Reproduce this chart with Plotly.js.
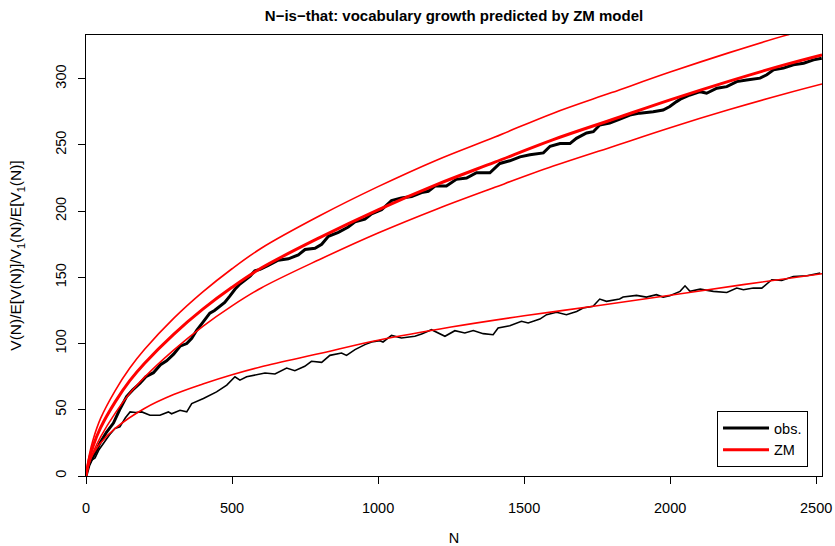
<!DOCTYPE html>
<html>
<head>
<meta charset="utf-8">
<script src="https://cdn.plot.ly/plotly-3.0.1.min.js"></script>
<style>html,body{margin:0;padding:0;background:#fff;}#chart{width:835px;height:546px;}</style>
</head>
<body>
<div id="chart"></div>
<script>
// Observed vocabulary size V(N)
const obsV_N = [0,10,20,31,48,70,94,115,139,160,185,205,231,255,276,300,322,345,362,379,400,424,440,459,475,493,510,527,545,562,578,596,624,658,693,727,750,784,807,830,864,898,921,955,978,1012,1046,1080,1115,1149,1172,1195,1234,1268,1303,1337,1383,1417,1451,1486,1520,1566,1589,1623,1657,1679,1714,1737,1759,1793,1828,1862,1896,1942,1976,1999,2022,2039,2068,2103,2125,2160,2194,2228,2262,2308,2331,2354,2388,2422,2457,2491,2519];
const obsV = [0,8,13,17,25,33,40,50,60,65,70,75,78,84,87,92,98,100,104,110,116,123,125,128,131,136,141,145,148,151,155,156,159,163,164,167,171,172,175,181,184,188,192,194,198,201,208,210,211,214,215,219,219,224,225,229,229,236,238,241,242.5,244,249,251,251,255,259,260,265,266.5,269.5,272.6,274,275,276.4,279,282.7,285,287.7,290.2,289,292.8,294,297.8,299,300.4,303,306.7,308,310.5,311.7,314.2,315.5];

// Observed hapax count V1(N)
const obsV1_N = [0,10,20,31,45,59,80,99,116,135,151,170,191,219,253,282,293,322,345,362,402,447,482,510,527,550,584,613,647,687,715,749,772,807,835,875,892,921,955,978,1006,1017,1046,1080,1126,1149,1183,1229,1263,1297,1326,1360,1394,1411,1451,1491,1514,1554,1577,1611,1645,1680,1702,1736,1759,1782,1827,1839,1885,1919,1953,1976,1999,2034,2051,2068,2103,2148,2194,2228,2251,2285,2314,2348,2382,2422,2468,2514];
const obsV1 = [0,8,12,13.7,20,24.6,31,35.9,37.1,44,48.4,48,48.4,45.9,45.9,48.4,47,49.6,48.4,54.7,58.5,63.5,68.6,74.9,72.4,74.9,76.2,77.8,77,81.5,79.5,82.8,86.6,85.8,91.1,92.9,91.1,95.4,99.2,101.2,102.2,101.2,106.2,104.2,105.5,107.2,110.5,105.5,109.7,108,109.8,107.5,106.7,111.7,113.5,116.8,115.5,118.5,121.8,123.6,121.8,124.3,126.8,128.1,133.6,131.9,133.6,135.1,136.4,135.1,136.9,135.1,136.1,139.4,143.6,139.4,141.1,139.4,138.6,141.9,140.6,141.9,141.9,148.2,147.7,150.7,151.2,153.2];

// ZM model: E[V(N)] with upper / lower bands
const zm_N   = [0,10,25,50,100,150,200,300,400,500,600,800,1000,1200,1400,1600,1800,2000,2200,2400,2520];
const zmEV   = [0,11.6,23,36.5,56,72,85,107,126,142.5,157,180,201,220,237,254,269,284,298,311,318];
const zmUp   = [0,14.6,28,43.5,64.5,81.5,95.5,119,139,156.5,172,196.5,218.5,238.5,256,274,289.5,305,319.5,333,340];
const zmLow  = [0,8.6,18,29.5,47.5,62.5,74.5,95,113,128.5,142,163.5,183.5,201.5,218,234,248.5,263,276.5,289,296];

// ZM model: E[V1(N)]
const zm1_N  = [0,10,25,50,100,200,300,400,500,600,800,1000,1250,1500,1750,2000,2250,2520];
const zmEV1  = [0,10,17,25,36,51,61.5,69.5,76.5,82.5,92.5,102.5,112.5,121,128.5,136.5,144.5,152.7];

const xTicks = [0,500,1000,1500,2000,2500];
const yTicks = [0,50,100,150,200,250,300];

const FONT = 'Liberation Sans, Arial, Helvetica, sans-serif';
const thin = 1.6, thick = 3;
const LAB = 14.5;

const traces = [
  {x: obsV_N, y: obsV, name: 'obs.', mode: 'lines', line: {color: 'black', width: thick}, showlegend: true},
  {x: obsV1_N, y: obsV1, name: 'obs. V1', mode: 'lines', line: {color: 'black', width: thin}, showlegend: false},
  {x: zm_N, y: zmEV, name: 'ZM', mode: 'lines', line: {color: '#ff0000', width: thick, shape: 'spline'}, showlegend: true},
  {x: zm_N, y: zmUp, name: 'upper', mode: 'lines', line: {color: '#ff0000', width: thin, shape: 'spline'}, showlegend: false},
  {x: zm_N, y: zmLow, name: 'lower', mode: 'lines', line: {color: '#ff0000', width: thin, shape: 'spline'}, showlegend: false},
  {x: zm1_N, y: zmEV1, name: 'ZM V1', mode: 'lines', line: {color: '#ff0000', width: thin, shape: 'spline'}, showlegend: false}
];

const layout = {
  width: 835, height: 546,
  margin: {l: 86, r: 13, t: 35, b: 70, pad: 0},
  paper_bgcolor: '#fff', plot_bgcolor: '#fff',
  font: {family: FONT, size: LAB, color: 'black'},
  title: {text: 'N\u2212is\u2212that: vocabulary growth predicted by ZM model', x: 0.5, xref: 'paper', y: 1 - 16/546, yref: 'container', yanchor: 'middle', xanchor: 'center', font: {family: FONT, size: 15, weight: 'bold', color: 'black'}},
  xaxis: {range: [0, 2520], tickvals: xTicks, ticktext: xTicks.map(String), ticks: 'outside', ticklen: 7, tickwidth: 1, tickcolor: 'black',
          showline: true, mirror: true, linecolor: 'black', linewidth: 1, showgrid: false, zeroline: false,
          tickfont: {family: FONT, size: LAB, color: 'black'}, ticklabelstandoff: 12,
          title: {text: 'N', font: {family: FONT, size: LAB, color: 'black'}, standoff: 25}},
  yaxis: {range: [0, 333], tickvals: yTicks, ticktext: yTicks.map(String), ticks: 'outside', ticklen: 7, tickwidth: 1, tickcolor: 'black',
          showline: true, mirror: true, linecolor: 'black', linewidth: 1, showgrid: false, zeroline: false, tickangle: -90,
          tickfont: {family: FONT, size: LAB, color: 'black'}, ticklabelstandoff: 6,
          title: {text: 'V(N)/E[V(N)]/V<sub>1</sub>(N)/E[V<sub>1</sub>(N)]', font: {family: FONT, size: 15.5, color: 'black'}, standoff: 27}},
  legend: {x: 0.981, y: 0.0204, xanchor: 'right', yanchor: 'bottom', bordercolor: 'black', borderwidth: 1, bgcolor: '#fff',
           font: {family: FONT, size: 14.5, color: 'black'}, itemwidth: 46, tracegroupgap: 0},
  showlegend: true
};

Plotly.newPlot('chart', traces, layout, {staticPlot: true, displayModeBar: false});
</script>
</body>
</html>
